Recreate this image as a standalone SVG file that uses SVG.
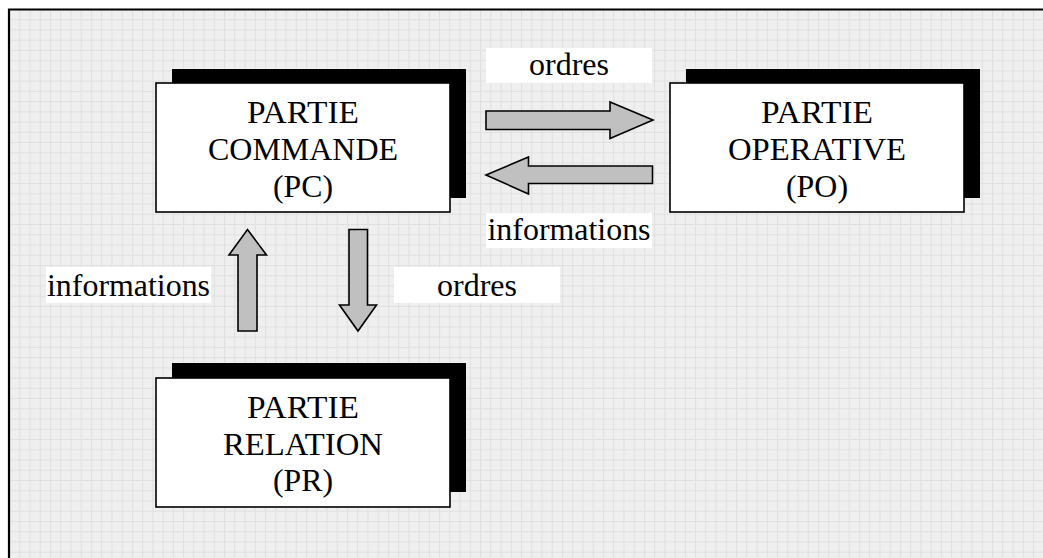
<svg xmlns="http://www.w3.org/2000/svg" width="1043" height="558" viewBox="0 0 1043 558">
  <defs>
    <pattern id="grid" patternUnits="userSpaceOnUse" x="9" y="9" width="10.24" height="10.24">
      <rect width="10.24" height="10.24" fill="#efefef"/>
      <path d="M0 0.5 H10.24 M0.5 0 V10.24" stroke="#e0e0e0" stroke-width="1" fill="none"/>
    </pattern>
    <style>
      .shadow { fill: #000; }
      .box { fill: #fff; stroke: #000; stroke-width: 1.6; }
      .t { font-family: 'Liberation Serif', 'DejaVu Serif', 'Times New Roman', Times, serif; font-size: 32px; fill: #000; text-anchor: middle; }
      .lbl { fill: #fff; }
      .arrow { fill: #c0c0c0; stroke: #000; stroke-width: 1.6; stroke-linejoin: miter; }
    </style>
  </defs>
  <rect x="0" y="0" width="1043" height="558" fill="#fff"/>
  <rect x="9" y="9" width="1034" height="549" fill="url(#grid)"/>
  <path d="M9 558 V9.5 H1043" fill="none" stroke="#000" stroke-width="2.2"/>

  <g id="PC">
    <rect class="shadow" x="172" y="69" width="294" height="129"/>
    <rect class="box" x="156" y="83" width="294" height="129"/>
    <text class="t" x="303" y="123" textLength="112" lengthAdjust="spacingAndGlyphs">PARTIE</text>
    <text class="t" x="303" y="160" textLength="190" lengthAdjust="spacingAndGlyphs">COMMANDE</text>
    <text class="t" x="303" y="197" textLength="60" lengthAdjust="spacingAndGlyphs">(PC)</text>
  </g>

  <g id="PO">
    <rect class="shadow" x="686" y="69" width="294" height="129"/>
    <rect class="box" x="670" y="83" width="294" height="129"/>
    <text class="t" x="817" y="123" textLength="112" lengthAdjust="spacingAndGlyphs">PARTIE</text>
    <text class="t" x="817" y="160" textLength="178" lengthAdjust="spacingAndGlyphs">OPERATIVE</text>
    <text class="t" x="817" y="197" textLength="62" lengthAdjust="spacingAndGlyphs">(PO)</text>
  </g>

  <g id="PR">
    <rect class="shadow" x="172" y="363" width="294" height="129"/>
    <rect class="box" x="156" y="378" width="294" height="129"/>
    <text class="t" x="303" y="418" textLength="112" lengthAdjust="spacingAndGlyphs">PARTIE</text>
    <text class="t" x="303" y="455" textLength="160" lengthAdjust="spacingAndGlyphs">RELATION</text>
    <text class="t" x="303" y="491" textLength="60" lengthAdjust="spacingAndGlyphs">(PR)</text>
  </g>

  <g id="connectors">
    <path class="arrow" d="M486 111 H610 V102 L653 120 L610 138.5 V129.5 H486 Z"/>
    <path class="arrow" d="M652.5 166 H528.5 V157 L486 175 L528.5 194 V183.5 H652.5 Z"/>
    <path class="arrow" d="M238 331 V255 H229 L247.5 229.5 L266.5 255 H257 V331 Z"/>
    <path class="arrow" d="M349 229.5 V305 H339.5 L358 331 L376.5 305 H367.5 V229.5 Z"/>
  </g>

  <g id="labels">
    <rect class="lbl" x="486" y="48" width="166" height="35"/>
    <text class="t" x="569" y="75" textLength="80" lengthAdjust="spacingAndGlyphs">ordres</text>
    <rect class="lbl" x="486" y="213" width="166" height="35"/>
    <text class="t" x="569" y="240" textLength="163" lengthAdjust="spacingAndGlyphs">informations</text>
    <rect class="lbl" x="46" y="267" width="165" height="36"/>
    <text class="t" x="128.5" y="296" textLength="163" lengthAdjust="spacingAndGlyphs">informations</text>
    <rect class="lbl" x="394" y="267" width="166" height="36"/>
    <text class="t" x="477" y="296" textLength="80" lengthAdjust="spacingAndGlyphs">ordres</text>
  </g>
</svg>
